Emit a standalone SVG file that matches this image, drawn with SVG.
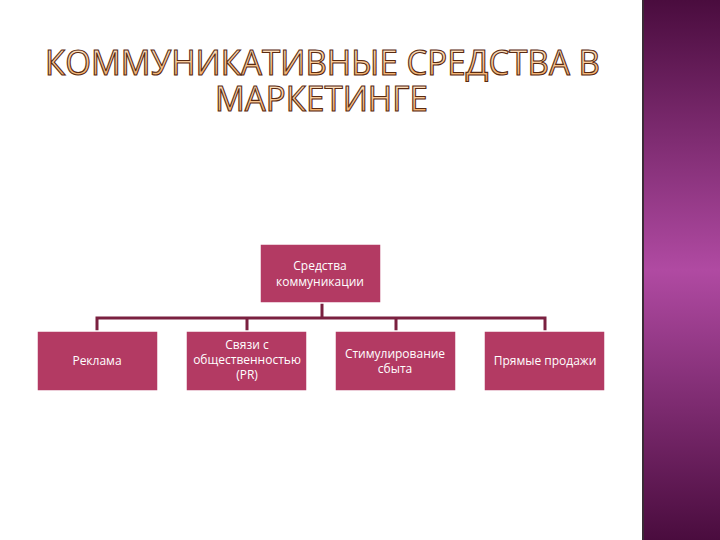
<svg xmlns="http://www.w3.org/2000/svg" width="720" height="540" viewBox="0 0 720 540">
<defs>
<linearGradient id="side" x1="0" y1="0" x2="0" y2="1">
<stop offset="0" stop-color="#4a0c3e"/><stop offset="0.5" stop-color="#b04aa2"/><stop offset="1" stop-color="#4a0c3e"/>
</linearGradient>
<linearGradient id="tf" x1="0" y1="0" x2="0" y2="1">
<stop offset="0" stop-color="#fff3e0"/><stop offset="1" stop-color="#f0a050"/>
</linearGradient>
<style>
.t{font-family:"Open Sans","DejaVu Sans",sans-serif;font-size:34px;fill:url(#tf);stroke:#5a2a10;stroke-width:1.1}
.b{fill:#b33a63;stroke:#fff;stroke-width:1.5}
.l{font-family:"Open Sans","DejaVu Sans",sans-serif;font-size:12px;fill:#fff;text-anchor:middle}
.c{stroke:#7a2040;stroke-width:3;fill:none}
</style>
</defs>
<rect width="720" height="540" fill="#fff"/>
<rect x="642" y="0" width="78" height="540" fill="url(#side)"/>
<rect x="642" y="0" width="2" height="540" fill="#3a2a36"/>
<text class="t" x="45" y="75" textLength="555" lengthAdjust="spacingAndGlyphs">КОММУНИКАТИВНЫЕ СРЕДСТВА В</text>
<text class="t" x="215" y="111" textLength="213" lengthAdjust="spacingAndGlyphs">МАРКЕТИНГЕ</text>
<g id="connectors">
<path class="c" d="M322 303V318M97 332V318H545V332M247 318V332M396 318V332"/>
</g>
<g id="root"><rect class="b" x="260" y="244" width="121" height="59"/><text class="l" x="320" y="270">Средства</text><text class="l" x="320" y="286">коммуникации</text></g>
<g id="n1"><rect class="b" x="37" y="331" width="121" height="60"/><text class="l" x="97" y="365">Реклама</text></g>
<g id="n2"><rect class="b" x="186" y="331" width="121" height="60"/><text class="l" x="247" y="349" font-size="10.5">Связи с</text><text class="l" x="247" y="364" font-size="10.5">общественностью</text><text class="l" x="247" y="379" font-size="10.5">(PR)</text></g>
<g id="n3"><rect class="b" x="335" y="331" width="121" height="60"/><text class="l" x="395" y="358">Стимулирование</text><text class="l" x="395" y="373">сбыта</text></g>
<g id="n4"><rect class="b" x="484" y="331" width="121" height="60"/><text class="l" x="545" y="365">Прямые продажи</text></g>
</svg>
